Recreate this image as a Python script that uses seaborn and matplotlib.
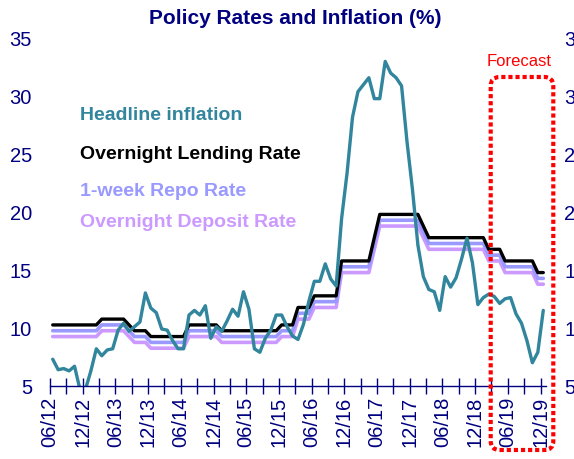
import numpy as np
import pandas as pd
import matplotlib
matplotlib.use("Agg")
import matplotlib.pyplot as plt
from matplotlib.patches import FancyBboxPatch
import seaborn as sns

sns.set_style("white")
plt.rcParams["font.family"] = ["Liberation Sans", "DejaVu Sans"]

# monthly data, 06/12 .. 12/19 (forecast from 01/19)
month_labels = ["06/12", "12/12", "06/13", "12/13", "06/14", "12/14", "06/15", "12/15",
                "06/16", "12/16", "06/17", "12/17", "06/18", "12/18", "06/19", "12/19"]

inflation = [7.3, 6.4, 6.5, 6.3, 6.7, 4.7, 4.7, 6.3, 8.2, 7.6,
             8.1, 8.2, 9.8, 10.4, 9.7, 10.1, 10.5, 13.0, 11.7, 11.3,
             9.9, 9.8, 8.9, 8.2, 8.2, 11.1, 11.5, 11.1, 11.9, 9.1,
             10.1, 9.7, 10.6, 11.6, 11.0, 13.1, 11.6, 8.2, 7.9, 9.1,
             9.8, 11.1, 11.1, 10.1, 9.3, 9.0, 10.3, 12.3, 14.0, 14.0,
             15.5, 14.2, 13.6, 19.4, 23.3, 28.1, 30.3, 30.9, 31.5, 29.7,
             29.7, 32.9, 31.9, 31.5, 30.8, 26.0, 21.9, 17.1, 14.4, 13.3,
             13.1, 11.5, 14.4, 13.5, 14.3, 15.9, 17.7, 15.6, 12.0, 12.6,
             12.9, 12.7, 12.1, 12.5, 12.6, 11.2, 10.4, 8.9, 7.0, 7.9,
             11.5]

lending = [10.25, 10.25, 10.25, 10.25, 10.25, 10.25, 10.25, 10.25, 10.25, 10.75,
           10.75, 10.75, 10.75, 10.75, 10.25, 9.75, 9.75, 9.75, 9.25, 9.25,
           9.25, 9.25, 9.25, 9.25, 9.25, 10.25, 10.25, 10.25, 10.25, 10.25,
           10.25, 9.75, 9.75, 9.75, 9.75, 9.75, 9.75, 9.75, 9.75, 9.75,
           9.75, 9.75, 10.25, 10.25, 10.25, 11.75, 11.75, 11.75, 12.75, 12.75,
           12.75, 12.75, 12.75, 15.75, 15.75, 15.75, 15.75, 15.75, 15.75, 17.75,
           19.75, 19.75, 19.75, 19.75, 19.75, 19.75, 19.75, 19.75, 18.75, 17.75,
           17.75, 17.75, 17.75, 17.75, 17.75, 17.75, 17.75, 17.75, 17.75, 17.75,
           16.75, 16.75, 16.75, 15.75, 15.75, 15.75, 15.75, 15.75, 15.75, 14.75,
           14.75]

repo = [9.75, 9.75, 9.75, 9.75, 9.75, 9.75, 9.75, 9.75, 9.75, 10.25,
        10.25, 10.25, 10.25, 10.25, 9.75, 9.25, 9.25, 9.25, 8.75, 8.75,
        8.75, 8.75, 8.75, 8.75, 8.75, 9.75, 9.75, 9.75, 9.75, 9.75,
        9.75, 9.25, 9.25, 9.25, 9.25, 9.25, 9.25, 9.25, 9.25, 9.25,
        9.25, 9.25, 9.75, 9.75, 9.75, 11.25, 11.25, 11.25, 12.25, 12.25,
        12.25, 12.25, 12.25, 15.25, 15.25, 15.25, 15.25, 15.25, 15.25, 17.25,
        19.25, 19.25, 19.25, 19.25, 19.25, 19.25, 19.25, 19.25, 18.25, 17.25,
        17.25, 17.25, 17.25, 17.25, 17.25, 17.25, 17.25, 17.25, 17.25, 17.25,
        16.25, 16.25, 16.25, 15.25, 15.25, 15.25, 15.25, 15.25, 15.25, 14.25,
        14.25]

deposit = [9.25, 9.25, 9.25, 9.25, 9.25, 9.25, 9.25, 9.25, 9.25, 9.75,
           9.75, 9.75, 9.75, 9.75, 9.25, 8.75, 8.75, 8.75, 8.25, 8.25,
           8.25, 8.25, 8.25, 8.25, 8.25, 9.25, 9.25, 9.25, 9.25, 9.25,
           9.25, 8.75, 8.75, 8.75, 8.75, 8.75, 8.75, 8.75, 8.75, 8.75,
           8.75, 8.75, 9.25, 9.25, 9.25, 10.75, 10.75, 10.75, 11.75, 11.75,
           11.75, 11.75, 11.75, 14.75, 14.75, 14.75, 14.75, 14.75, 14.75, 16.75,
           18.75, 18.75, 18.75, 18.75, 18.75, 18.75, 18.75, 18.75, 17.75, 16.75,
           16.75, 16.75, 16.75, 16.75, 16.75, 16.75, 16.75, 16.75, 16.75, 16.75,
           15.75, 15.75, 15.75, 14.75, 14.75, 14.75, 14.75, 14.75, 14.75, 13.75,
           13.75]

df = pd.DataFrame({
    "month": np.arange(len(inflation)),
    "inflation": inflation,
    "lending": lending,
    "repo": repo,
    "deposit": deposit,
})

navy = "#000080"
teal = "#31859C"
blue = "#9999FF"
purple = "#CC99FF"

fig = plt.figure(figsize=(5.74, 4.60), dpi=100)
ax = fig.add_axes([50 / 574, 73 / 460, 496 / 574, 349 / 460])

sns.lineplot(data=df, x="month", y="deposit", color=purple, lw=2.6, ax=ax)
sns.lineplot(data=df, x="month", y="repo", color=blue, lw=2.6, ax=ax)
sns.lineplot(data=df, x="month", y="lending", color="black", lw=2.4, ax=ax)
sns.lineplot(data=df, x="month", y="inflation", color=teal, lw=2.4, ax=ax)

ax.set_xlim(-0.5, 90.5)
ax.set_ylim(5, 35)
ax.set_xlabel("")
ax.set_ylabel("")

ax.set_xticks(np.arange(-0.5, 91, 6))
ax.set_xticklabels(month_labels)
ax.set_xticks(np.arange(2.5, 91, 6), minor=True)
ax.tick_params(axis="x", which="both", bottom=True, direction="inout", length=12, width=1,
               color=navy, labelcolor=navy, labelsize=14.5, labelrotation=90, pad=1)
ax.set_yticks(range(5, 36, 5))
ax.tick_params(axis="y", length=0, pad=13, labelsize=14.5, labelcolor=navy)

sns.despine(ax=ax, left=True, right=True, top=True)
ax.spines["bottom"].set_color(navy)
ax.spines["bottom"].set_linewidth(1)

ax2 = ax.twinx()
ax2.set_ylim(5, 35)
ax2.set_yticks(range(5, 36, 5))
ax2.tick_params(axis="y", length=0, pad=13, labelsize=14.5, labelcolor=navy)
for s in ax2.spines.values():
    s.set_visible(False)

fig.text(295 / 574, 1 - 18 / 460, "Policy Rates and Inflation (%)", ha="center", va="center",
         fontsize=15, fontweight="bold", color=navy)

labels = [("Headline inflation", teal, 116), ("Overnight Lending Rate", "black", 155),
          ("1-week Repo Rate", blue, 192), ("Overnight Deposit Rate", purple, 223)]
for txt, col, ypx in labels:
    fig.text(80 / 574, 1 - ypx / 460, txt, ha="left", va="center", fontsize=14,
             fontweight="bold", color=col)

# forecast box
fig.text(519 / 574, 1 - 62 / 460, "Forecast", ha="center", va="center", fontsize=12, color="#FF0000")
box = FancyBboxPatch((4.907, 0.09), 0.626, 3.73, boxstyle="round,pad=0,rounding_size=0.09",
                     transform=fig.dpi_scale_trans, fill=False, edgecolor="#FF0000",
                     lw=3, linestyle=(0, (1, 0.7)))
fig.add_artist(box)

fig.savefig("out.png", dpi=100)
